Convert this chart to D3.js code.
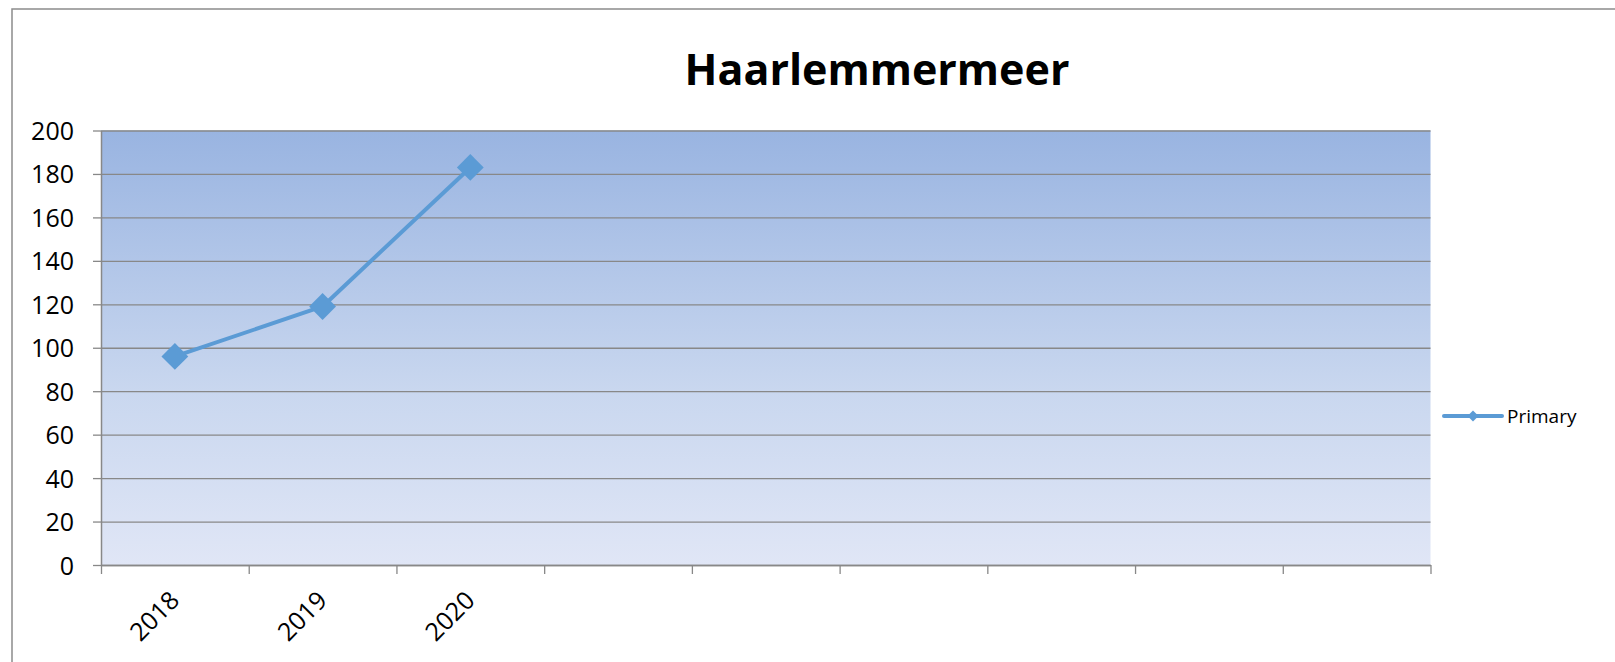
<!DOCTYPE html>
<html>
<head>
<meta charset="utf-8">
<script src="https://cdn.jsdelivr.net/npm/d3@7"></script>
<style>
  html, body { margin: 0; padding: 0; background: #fff; }
  svg { display: block; font-family: "Open Sans", "Liberation Sans", sans-serif; }
</style>
</head>
<body>
<svg id="chart" width="1615" height="662"></svg>
<script>
// ─── Data ───
const chartTitle = "Haarlemmermeer";
const categoryLabels = ["2018", "2019", "2020", "", "", "", "", "", ""];
const primaryValues = [96, 119, 183];
const yTickValues = [0, 20, 40, 60, 80, 100, 120, 140, 160, 180, 200];
const seriesName = "Primary";

const lineColor = "#5B9BD5";
const gridColor = "#888888";
const fontFamily = '"Open Sans", "Liberation Sans", sans-serif';

// ─── Layout ───
const plot = { left: 101, top: 130.5, right: 1430.5, bottom: 565 };
const pw = plot.right - plot.left;
const ph = plot.bottom - plot.top;

const svg = d3.select("#chart");

// outer chart border
svg.append("rect")
  .attr("x", 12).attr("y", 9)
  .attr("width", 1700).attr("height", 800)
  .attr("fill", "#fff")
  .attr("stroke", "#8c8c8c")
  .attr("stroke-width", 1.5);

// gradient for plot area
const defs = svg.append("defs");
const grad = defs.append("linearGradient")
  .attr("id", "plotGrad")
  .attr("x1", 0).attr("y1", 0).attr("x2", 0).attr("y2", 1);
grad.append("stop").attr("offset", "0%").attr("stop-color", "#99B4E1");
grad.append("stop").attr("offset", "60%").attr("stop-color", "#C9D7EF");
grad.append("stop").attr("offset", "100%").attr("stop-color", "#E0E6F6");

const g = svg.append("g").attr("transform", `translate(${plot.left},${plot.top})`);

// ─── Scales ───
const x = d3.scaleBand()
  .domain(d3.range(categoryLabels.length))
  .range([0, pw])
  .padding(0);

const xEdge = d3.scaleLinear()
  .domain([0, categoryLabels.length])
  .range([0, pw]);

const y = d3.scaleLinear()
  .domain([0, 200])
  .range([ph, 0]);

g.append("rect")
  .attr("width", pw).attr("height", ph)
  .attr("fill", "url(#plotGrad)");

// ── Gridlines ──
g.append("g")
  .call(d3.axisLeft(y).tickValues(yTickValues).tickSize(-pw).tickFormat(""))
  .call((s) => s.select(".domain").remove())
  .call((s) => s.selectAll("line")
    .attr("stroke", gridColor)
    .attr("stroke-width", 1.3));

// ── Y axis ──
const gy = g.append("g")
  .call(d3.axisLeft(y).tickValues(yTickValues).tickSize(8).tickSizeOuter(0).tickPadding(19));
gy.attr("font-family", null);
gy.select(".domain").attr("stroke", gridColor).attr("stroke-width", 1.5);
gy.selectAll("line").attr("stroke", gridColor).attr("stroke-width", 1.3);
gy.selectAll("text")
  .style("font-family", fontFamily)
  .style("font-size", "25px")
  .style("fill", "#000")
  .attr("dy", "0.36em");

// ── X axis (ticks at category edges) ──
const gx = g.append("g")
  .attr("transform", `translate(0,${ph})`)
  .call(d3.axisBottom(xEdge).tickValues(d3.range(categoryLabels.length + 1)).tickSize(9).tickSizeOuter(0).tickFormat(""));
gx.select(".domain").attr("stroke", gridColor).attr("stroke-width", 1.5);
gx.selectAll("line").attr("stroke", gridColor).attr("stroke-width", 1.3);

// category labels, rotated
g.append("g")
  .selectAll("text")
  .data(categoryLabels)
  .join("text")
  .attr("transform", (d, i) => `translate(${x(i) + x.bandwidth() / 2 + 6},${ph + 37}) rotate(-45)`)
  .attr("text-anchor", "end")
  .style("font-size", "25px")
  .style("fill", "#000")
  .text((d) => d);

// ── Line + markers ──
const cx = (i) => x(i) + x.bandwidth() / 2;

g.append("path")
  .datum(primaryValues)
  .attr("fill", "none")
  .attr("stroke", lineColor)
  .attr("stroke-width", 4)
  .attr("stroke-linejoin", "round")
  .attr("d", d3.line().x((d, i) => cx(i)).y((d) => y(d)));

const diamond = d3.symbol().type(d3.symbolSquare).size(360);
g.append("g")
  .selectAll("path")
  .data(primaryValues)
  .join("path")
  .attr("d", diamond)
  .attr("transform", (d, i) => `translate(${cx(i)},${y(d)}) rotate(45)`)
  .attr("fill", lineColor);

// ── Title ──
svg.append("text")
  .attr("x", 877)
  .attr("y", 85)
  .attr("text-anchor", "middle")
  .style("font-size", "43px")
  .style("font-weight", "700")
  .style("fill", "#000")
  .text(chartTitle);

// ── Legend ──
const lg = svg.append("g").attr("transform", "translate(1444,416)");
lg.append("line")
  .attr("x1", 0).attr("x2", 58)
  .attr("stroke", lineColor)
  .attr("stroke-width", 4)
  .attr("stroke-linecap", "round");
lg.append("path")
  .attr("d", d3.symbol().type(d3.symbolSquare).size(60))
  .attr("transform", "translate(29,0) rotate(45)")
  .attr("fill", lineColor);
lg.append("text")
  .attr("x", 63)
  .attr("dy", "0.35em")
  .style("font-size", "19px")
  .style("fill", "#000")
  .text(seriesName);
</script>
</body>
</html>
